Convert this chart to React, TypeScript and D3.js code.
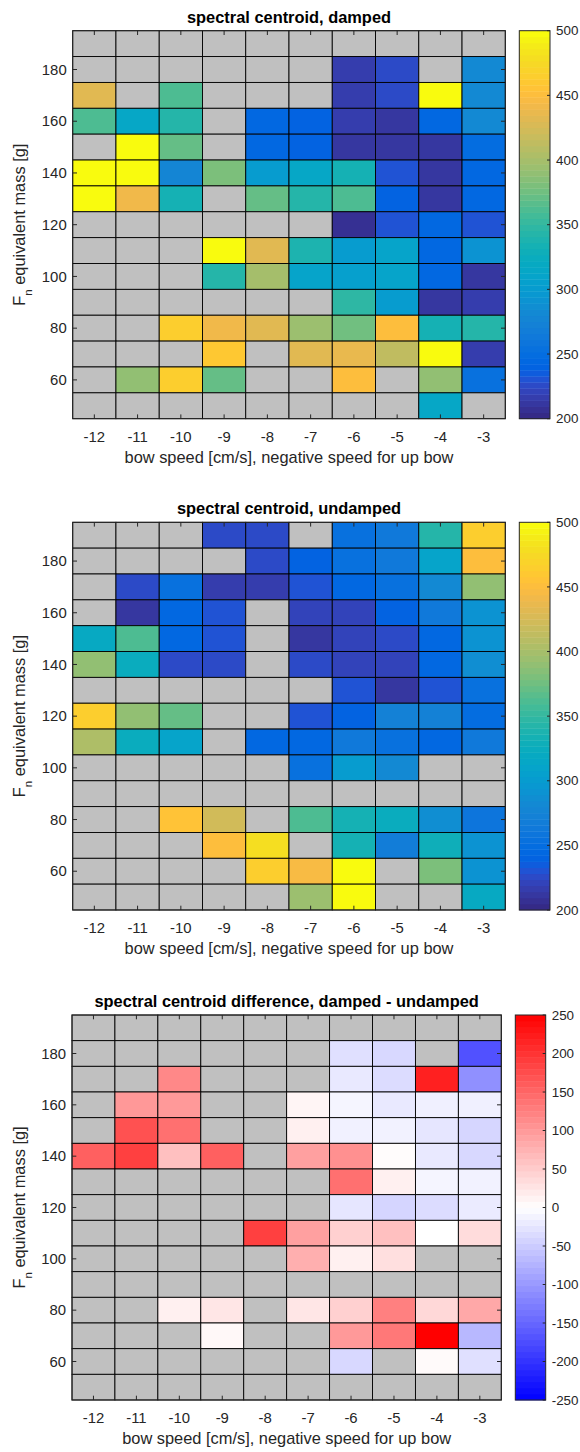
import React from "react";
import * as d3 from "d3";

// ---------- data ----------
const speeds = [-12, -11, -10, -9, -8, -7, -6, -5, -4, -3];
const masses = [190, 180, 170, 160, 150, 140, 130, 120, 110, 100, 90, 80, 70, 60, 50];
const yTickValues = [60, 80, 100, 120, 140, 160, 180];
const centroidTicks = [200, 250, 300, 350, 400, 450, 500];
const diffTicks = [-250, -200, -150, -100, -50, 0, 50, 100, 150, 200, 250];

const n = null;
// rows follow `masses` (top to bottom), columns follow `speeds`
const damped: (number | null)[][] = [
  [n, n, n, n, n, n, n, n, n, n],
  [n, n, n, n, n, n, 216, 224, n, 281],
  [430, n, 364, n, n, n, 216, 224, 497, 281],
  [364, 316, 343, n, 246, 240, 216, 212, 246, 281],
  [n, 497, 373, n, 244, 240, 212, 212, 214, 248],
  [497, 497, 279, 380, 302, 316, 333, 230, 214, 246],
  [497, 441, 333, n, 373, 343, 364, 238, 212, 246],
  [n, n, n, n, n, n, 208, 230, 246, 230],
  [n, n, n, 497, 430, 340, 302, 310, 244, 291],
  [n, n, n, 343, 398, 312, 307, 310, 246, 214],
  [n, n, n, n, n, n, 347, 302, 210, 216],
  [n, n, 465, 441, 430, 396, 376, 450, 335, 343],
  [n, n, n, 458, n, 430, 436, 413, 497, 216],
  [n, 392, 465, 373, n, n, 450, n, 390, 256],
  [n, n, n, n, n, n, n, n, 314, n],
];

const undamped: (number | null)[][] = [
  [n, n, n, 224, 224, n, 254, 265, 343, 465],
  [n, n, n, n, 224, 240, 254, 265, 310, 450],
  [n, 224, 254, 216, 216, 230, 244, 254, 281, 388],
  [n, 214, 246, 230, n, 222, 222, 240, 265, 293],
  [319, 364, 244, 230, n, 214, 220, 228, 246, 293],
  [392, 326, 224, 224, n, 224, 221, 221, 244, 285],
  [n, n, n, n, n, n, 230, 212, 230, 254],
  [465, 392, 373, n, n, 230, 242, 272, 272, 248],
  [404, 326, 310, n, 244, 246, 263, 256, 246, 263],
  [n, n, n, n, n, 254, 303, 281, n, n],
  [n, n, n, n, n, n, n, n, n, n],
  [n, n, 456, 424, n, 360, 333, 326, 286, 258],
  [n, n, n, 450, 478, n, 333, 270, 330, 293],
  [n, n, n, n, 465, 446, 497, n, 380, 293],
  [n, n, n, n, n, 394, 497, n, n, 318],
];

const difference: (number | null)[][] = [
  [n, n, n, n, n, n, n, n, n, n],
  [n, n, n, n, n, n, -30, -38, n, -171],
  [n, n, 117, n, n, n, -22, -34, 219, -109],
  [n, 101, 100, n, n, 10, -10, -22, -15, -15],
  [n, 171, 140, n, n, 15, -14, -13, -25, -40],
  [156, 187, 62, 156, n, 93, 109, 3, -22, -38],
  [n, n, n, n, n, n, 140, 15, -10, -13],
  [n, n, n, n, n, n, -25, -41, -34, -20],
  [n, n, n, n, 187, 93, 46, 62, 0, 34],
  [n, n, n, n, n, 78, 15, 31, n, n],
  [n, n, n, n, n, n, n, n, n, n],
  [n, n, 15, 25, n, 25, 46, 125, 38, 85],
  [n, n, n, 7, n, n, 100, 132, 250, -70],
  [n, n, n, n, n, n, -38, n, 5, -30],
  [n, n, n, n, n, n, n, n, n, n],
];

// MATLAB parula (64 entries)
const PARULA: number[][] = [
  [0.2081, 0.1663, 0.5292], [0.2116, 0.1898, 0.5777], [0.2123, 0.2138, 0.627], [0.2081, 0.2386, 0.6771],
  [0.1959, 0.2645, 0.7279], [0.1707, 0.2919, 0.7792], [0.1253, 0.3242, 0.8303], [0.0591, 0.3598, 0.8683],
  [0.0117, 0.3875, 0.882], [0.006, 0.4086, 0.8828], [0.0165, 0.4266, 0.8786], [0.0329, 0.443, 0.872],
  [0.0498, 0.4586, 0.8641], [0.0629, 0.4737, 0.8554], [0.0723, 0.4887, 0.8467], [0.0779, 0.504, 0.8384],
  [0.0793, 0.52, 0.8312], [0.0749, 0.5375, 0.8263], [0.0641, 0.557, 0.824], [0.0488, 0.5772, 0.8228],
  [0.0343, 0.5966, 0.8199], [0.0265, 0.6137, 0.8135], [0.0239, 0.6287, 0.8038], [0.0231, 0.6418, 0.7913],
  [0.0228, 0.6535, 0.7768], [0.0267, 0.6642, 0.7607], [0.0384, 0.6743, 0.7436], [0.059, 0.6838, 0.7254],
  [0.0843, 0.6928, 0.7062], [0.1133, 0.7015, 0.6859], [0.1453, 0.7098, 0.6646], [0.1801, 0.7177, 0.6424],
  [0.2178, 0.725, 0.6193], [0.2586, 0.7317, 0.5954], [0.3022, 0.7376, 0.5712], [0.3482, 0.7424, 0.5473],
  [0.3953, 0.7459, 0.5244], [0.442, 0.7481, 0.5033], [0.4871, 0.7491, 0.484], [0.53, 0.7491, 0.4661],
  [0.5709, 0.7485, 0.4494], [0.6099, 0.7473, 0.4337], [0.6473, 0.7456, 0.4188], [0.6834, 0.7435, 0.4044],
  [0.7184, 0.7411, 0.3905], [0.7525, 0.7384, 0.3768], [0.7858, 0.7356, 0.3633], [0.8185, 0.7327, 0.3498],
  [0.8507, 0.7299, 0.336], [0.8824, 0.7274, 0.3217], [0.9139, 0.7258, 0.3063], [0.945, 0.7261, 0.2886],
  [0.9739, 0.7314, 0.2666], [0.9938, 0.7455, 0.2403], [0.999, 0.7653, 0.2164], [0.9955, 0.7861, 0.1967],
  [0.988, 0.8066, 0.1794], [0.9789, 0.8271, 0.1633], [0.9697, 0.8481, 0.1475], [0.9626, 0.8705, 0.1309],
  [0.9589, 0.8949, 0.1132], [0.9598, 0.9218, 0.0948], [0.9661, 0.9514, 0.0755], [0.9763, 0.9831, 0.0538],
];

const parulaHex = PARULA.map(([r, g, b]) => d3.rgb(r * 255, g * 255, b * 255).formatHex());

const FONT = "'Liberation Sans', Arial, Helvetica, sans-serif";
const AX = "#262626";
const NAN_COLOR = "#c0c0c0";

type PanelProps = {
  title: string;
  data: (number | null)[][];
  x0: number; x1: number; y0: number; y1: number;
  cb0: number; cb1: number;
  domain: [number, number];
  ticks: number[];
  color: (v: number) => string;
};

function Panel({ title, data, x0, x1, y0, y1, cb0, cb1, domain, ticks, color }: PanelProps) {
  const x = d3.scaleBand<number>().domain(speeds).range([x0, x1]);
  const y = d3.scaleLinear().domain([45, 195]).range([y1, y0]);
  const cy = d3.scaleLinear().domain(domain).range([y1, y0]);
  const steps = d3.range(64);
  const stepH = (y1 - y0) / 64;
  const tl = 4.3;
  const midY = (y0 + y1) / 2;
  const midX = (x0 + x1) / 2;

  return (
    <g fontFamily={FONT}>
      {/* cells */}
      {masses.map((m, ri) =>
        speeds.map((s, ci) => {
          const v = data[ri][ci];
          return (
            <rect
              key={`${ri}-${ci}`}
              x={x(s)!}
              y={y(m + 5)}
              width={x.bandwidth()}
              height={y(m - 5) - y(m + 5)}
              fill={v == null ? NAN_COLOR : color(v)}
              stroke="#000"
              strokeWidth={0.9}
            />
          );
        })
      )}
      {/* box */}
      <rect x={x0} y={y0} width={x1 - x0} height={y1 - y0} fill="none" stroke={AX} strokeWidth={1} />
      {/* x ticks */}
      {speeds.map((s) => {
        const cx = x(s)! + x.bandwidth() / 2;
        return (
          <g key={`xt${s}`}>
            <line x1={cx} x2={cx} y1={y1} y2={y1 - tl} stroke={AX} strokeWidth={1} />
            <line x1={cx} x2={cx} y1={y0} y2={y0 + tl} stroke={AX} strokeWidth={1} />
            <text x={cx} y={y1 + 23} textAnchor="middle" fontSize={14.9} fill={AX}>
              {s}
            </text>
          </g>
        );
      })}
      {/* y ticks */}
      {yTickValues.map((t) => (
        <g key={`yt${t}`}>
          <line x1={x0} x2={x0 + tl} y1={y(t)} y2={y(t)} stroke={AX} strokeWidth={1} />
          <line x1={x1} x2={x1 - tl} y1={y(t)} y2={y(t)} stroke={AX} strokeWidth={1} />
          <text x={x0 - 6} y={y(t)} dy="0.35em" textAnchor="end" fontSize={14.9} fill={AX}>
            {t}
          </text>
        </g>
      ))}
      {/* title */}
      <text x={midX} y={y0 - 8} textAnchor="middle" fontSize={16.4} fontWeight="bold" fill="#000">
        {title}
      </text>
      {/* x label */}
      <text x={midX} y={y1 + 44.3} textAnchor="middle" fontSize={16.4} fill={AX}>
        bow speed [cm/s], negative speed for up bow
      </text>
      {/* y label */}
      <text
        transform={`translate(25,${midY}) rotate(-90)`}
        textAnchor="middle"
        fontSize={16.4}
        fill={AX}
      >
        F
        <tspan fontSize={11.5} dy={7}>n</tspan>
        <tspan dy={-7}> equivalent mass [g]</tspan>
      </text>
      {/* colorbar */}
      {steps.map((i) => {
        const v = domain[0] + ((i + 0.5) / 64) * (domain[1] - domain[0]);
        return (
          <rect
            key={`cb${i}`}
            x={cb0}
            y={y1 - (i + 1) * stepH}
            width={cb1 - cb0}
            height={stepH + 0.4}
            fill={color(v)}
          />
        );
      })}
      <rect x={cb0} y={y0} width={cb1 - cb0} height={y1 - y0} fill="none" stroke={AX} strokeWidth={1} />
      {ticks.map((t) => (
        <g key={`cbt${t}`}>
          <line x1={cb1} x2={cb1 - 3} y1={cy(t)} y2={cy(t)} stroke={AX} strokeWidth={1} />
          <text x={cb1 + 6} y={cy(t)} dy="0.35em" fontSize={13.4} fill={AX}>
            {t}
          </text>
        </g>
      ))}
    </g>
  );
}

export default function App() {
  const parula = d3.scaleQuantize<string>().domain([200, 500]).range(parulaHex);
  const parulaFn = (v: number) => parula(Math.max(200, Math.min(500, v)));
  const bwr = d3
    .scaleLinear<string>()
    .domain([-250, 0, 250])
    .range(["#0000ff", "#ffffff", "#ff0000"])
    .clamp(true);
  const bwrFn = (v: number) => bwr(v);

  return (
    <svg
      width={580}
      height={1452}
      style={{ position: "absolute", left: 0, top: 0, background: "#fff" }}
    >
      <rect x={0} y={0} width={580} height={1452} fill="#fff" />
      <Panel
        title="spectral centroid, damped"
        data={damped}
        x0={72.7} x1={505.3} y0={30.7} y1={418.7}
        cb0={519.3} cb1={550}
        domain={[200, 500]}
        ticks={centroidTicks}
        color={parulaFn}
      />
      <Panel
        title="spectral centroid, undamped"
        data={undamped}
        x0={72.7} x1={505.3} y0={522.3} y1={910}
        cb0={519.3} cb1={550}
        domain={[200, 500]}
        ticks={centroidTicks}
        color={parulaFn}
      />
      <Panel
        title="spectral centroid difference, damped - undamped"
        data={difference}
        x0={72} x1={501.3} y0={1015} y1={1400}
        cb0={515.3} cb1={545.7}
        domain={[-250, 250]}
        ticks={diffTicks}
        color={bwrFn}
      />
    </svg>
  );
}
